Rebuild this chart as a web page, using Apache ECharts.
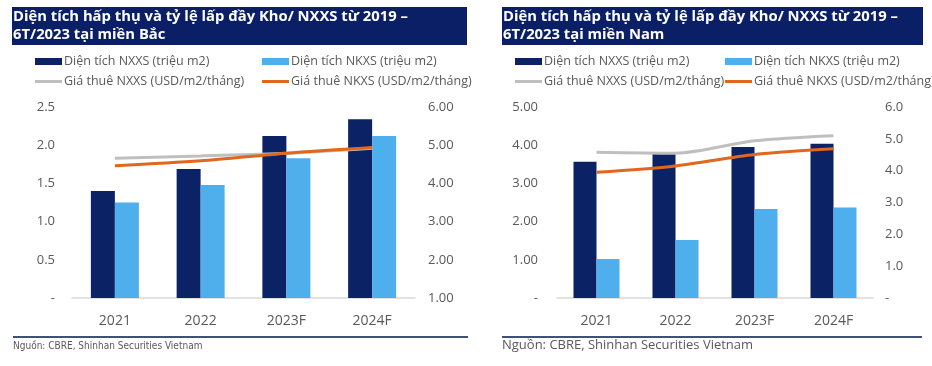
<!DOCTYPE html>
<html><head><meta charset="utf-8">
<script src="https://cdn.jsdelivr.net/npm/echarts@6/dist/echarts.min.js"></script>
<style>html,body{margin:0;padding:0;background:#fff}#c{width:932px;height:366px}</style>
</head><body><div id="c"></div>
<script>
const categories = ['2021', '2022', '2023F', '2024F'];
const northNXXS = [1.40, 1.69, 2.12, 2.34];
const northNKXS = [1.25, 1.48, 1.83, 2.12];
const northRentNXXS = [4.66, 4.72, 4.79, 4.92];
const northRentNKXS = [4.46, 4.59, 4.79, 4.94];
const southNXXS = [3.57, 3.79, 3.95, 4.04];
const southNKXS = [1.02, 1.52, 2.33, 2.37];
const southRentNXXS = [4.58, 4.55, 4.94, 5.10];
const southRentNKXS = [3.95, 4.15, 4.51, 4.69];
const seriesNames = ['Diện tích NXXS (triệu m2)', 'Diện tích NKXS (triệu m2)', 'Giá thuê NXXS (USD/m2/tháng)', 'Giá thuê NKXS (USD/m2/tháng)'];
const titles = ['Diện tích hấp thụ và tỷ lệ lấp đầy Kho/ NXXS từ 2019 –\n6T/2023 tại miền Bắc', 'Diện tích hấp thụ và tỷ lệ lấp đầy Kho/ NXXS từ 2019 –\n6T/2023 tại miền Nam'];
const source = 'Nguồn: CBRE, Shinhan Securities Vietnam';

const C_DARK = '#0B2265', C_LIGHT = '#4FAEEC', C_GRAY = '#BFBFBF', C_ORANGE = '#E2671E', C_TITLE = '#0A1F66';
const FONT = '"Open Sans", "Noto Sans", sans-serif';
const lbl = {color: '#595959', fontSize: 13, fontFamily: FONT};

function legends(x1, x2) {
  const pos = [[x1, 55], [x2, 55], [x1, 75], [x2, 75]];
  return seriesNames.map((n, i) => ({
    left: pos[i][0], top: pos[i][1], data: [n], itemWidth: 27, itemHeight: i < 2 ? 7 : 3,
    itemGap: 0, padding: 0, selectedMode: false,
    icon: 'rect',
    textStyle: {color: '#595959', fontSize: 12.5, fontFamily: FONT, padding: [0, 0, 0, -3]}
  }));
}

const option = {
  animation: false,
  legend: [...legends(35, 262), ...legends(515, 725)],
  grid: [
    {left: 72, right: 932 - 415, top: 107, bottom: 366 - 298},
    {left: 557, right: 932 - 873, top: 107, bottom: 366 - 298}
  ],
  xAxis: [0, 1].map(g => ({
    type: 'category', gridIndex: g, data: categories,
    axisLine: {lineStyle: {color: '#D9D9D9', width: 1.5}}, axisTick: {show: false},
    axisLabel: Object.assign({}, lbl, {margin: 16, fontSize: 14})
  })),
  yAxis: [
    {type: 'value', gridIndex: 0, min: 0, max: 2.5, interval: 0.5, splitLine: {show: false},
      axisLabel: Object.assign({margin: 17, formatter: v => v === 0 ? '-' : v.toFixed(1)}, lbl)},
    {type: 'value', gridIndex: 0, position: 'right', min: 1, max: 6, interval: 1, splitLine: {show: false},
      axisLabel: Object.assign({margin: 13, formatter: v => v.toFixed(2)}, lbl)},
    {type: 'value', gridIndex: 1, min: 0, max: 5, interval: 1, splitLine: {show: false},
      axisLabel: Object.assign({margin: 19, formatter: v => v === 0 ? '-' : v.toFixed(2)}, lbl)},
    {type: 'value', gridIndex: 1, position: 'right', min: 0, max: 6, interval: 1, splitLine: {show: false},
      axisLabel: Object.assign({margin: 12, formatter: v => v === 0 ? '-' : v.toFixed(1)}, lbl)}
  ],
  series: [
    {name: seriesNames[0], type: 'bar', xAxisIndex: 0, yAxisIndex: 0, data: northNXXS, barWidth: 24, barGap: '0%', itemStyle: {color: C_DARK}},
    {name: seriesNames[1], type: 'bar', xAxisIndex: 0, yAxisIndex: 0, data: northNKXS, barWidth: 24, barGap: '0%', itemStyle: {color: C_LIGHT}},
    {name: seriesNames[2], type: 'line', xAxisIndex: 0, yAxisIndex: 1, data: northRentNXXS, smooth: 0.3, symbol: 'none', lineStyle: {color: C_GRAY, width: 3}, itemStyle: {color: C_GRAY}},
    {name: seriesNames[3], type: 'line', xAxisIndex: 0, yAxisIndex: 1, data: northRentNKXS, smooth: 0.3, symbol: 'none', lineStyle: {color: C_ORANGE, width: 3}, itemStyle: {color: C_ORANGE}},
    {name: seriesNames[0], type: 'bar', xAxisIndex: 1, yAxisIndex: 2, data: southNXXS, barWidth: 23, barGap: '0%', itemStyle: {color: C_DARK}},
    {name: seriesNames[1], type: 'bar', xAxisIndex: 1, yAxisIndex: 2, data: southNKXS, barWidth: 23, barGap: '0%', itemStyle: {color: C_LIGHT}},
    {name: seriesNames[2], type: 'line', xAxisIndex: 1, yAxisIndex: 3, data: southRentNXXS, smooth: 0.3, symbol: 'none', lineStyle: {color: C_GRAY, width: 3}, itemStyle: {color: C_GRAY}},
    {name: seriesNames[3], type: 'line', xAxisIndex: 1, yAxisIndex: 3, data: southRentNKXS, smooth: 0.3, symbol: 'none', lineStyle: {color: C_ORANGE, width: 3}, itemStyle: {color: C_ORANGE}}
  ],
  graphic: [
    {type: 'rect', shape: {x: 12, y: 7, width: 455, height: 38}, style: {fill: C_TITLE}},
    {type: 'rect', shape: {x: 502, y: 7, width: 421, height: 38}, style: {fill: C_TITLE}},
    {type: 'text', x: 13, y: 8, style: {text: titles[0], fill: '#fff', font: 'bold 14.8px ' + FONT, lineHeight: 18}},
    {type: 'text', x: 503, y: 8, style: {text: titles[1], fill: '#fff', font: 'bold 14.8px ' + FONT, lineHeight: 18}},
    {type: 'rect', shape: {x: 13, y: 336, width: 455, height: 2}, style: {fill: '#3F5079'}},
    {type: 'rect', shape: {x: 502, y: 336, width: 420, height: 2}, style: {fill: '#3F5079'}},
    {type: 'text', x: 13, y: 341, style: {text: source, fill: '#595959', font: '10px "Liberation Sans Narrow", "DejaVu Sans Condensed", sans-serif'}},
    {type: 'text', x: 502, y: 339, style: {text: source, fill: '#595959', font: '13px ' + FONT}}
  ]
};
echarts.init(document.getElementById('c')).setOption(option);
</script></body></html>
